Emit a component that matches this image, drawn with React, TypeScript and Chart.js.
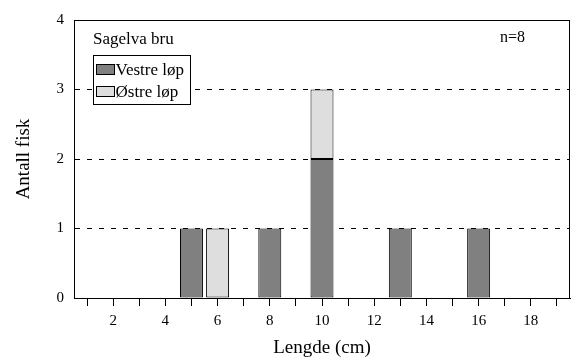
import React, { useEffect, useRef } from "react";
import { Chart, registerables } from "chart.js";

Chart.register(...registerables);

const categories = ["1","2","3","4","5","6","7","8","9","10","11","12","13","14","15","16","17","18","19"];
const vestre = [0,0,0,0,1,0,0,1,0,2,0,0,1,0,0,1,0,0,0];
const ostre  = [0,0,0,0,0,1,0,0,0,1,0,0,0,0,0,0,0,0,0];
const seriesNames = ["Vestre løp", "Østre løp"];
const seriesColors = ["#808080", "#dedede"];
const yTicks = [0, 1, 2, 3, 4];
const siteLabel = "Sagelva bru";
const nLabel = "n=8";
const xTitle = "Lengde (cm)";
const yTitle = "Antall fisk";

const FONT = "'Liberation Serif', 'Times New Roman', serif";

const decorPlugin = {
  id: "decor",
  afterDraw(chart: any) {
    const ctx = chart.ctx as CanvasRenderingContext2D;
    const a = chart.chartArea;
    ctx.save();
    // frame top & right
    ctx.strokeStyle = "#000";
    ctx.lineWidth = 1;
    ctx.setLineDash([]);
    ctx.beginPath();
    const t = Math.round(a.top) + 0.5;
    const r = Math.round(a.right) - 0.5;
    ctx.moveTo(a.left, t);
    ctx.lineTo(r, t);
    ctx.lineTo(r, a.bottom);
    ctx.stroke();

    ctx.fillStyle = "#000";
    ctx.textBaseline = "middle";
    ctx.textAlign = "left";
    ctx.font = `17px ${FONT}`;
    ctx.fillText(siteLabel, a.left + 19, a.top + 20);
    ctx.font = `16px ${FONT}`;
    ctx.fillText(nLabel, a.right - 70, a.top + 18);

    // legend box
    const bx = a.left + 19.5, by = a.top + 35.5, bw = 97, bh = 49;
    ctx.fillStyle = "#fff";
    ctx.fillRect(bx, by, bw, bh);
    ctx.strokeRect(bx, by, bw, bh);
    ctx.font = `17px ${FONT}`;
    seriesNames.forEach((name, i) => {
      const cy = by + 14 + i * 22;
      ctx.fillStyle = seriesColors[i];
      ctx.fillRect(bx + 3, cy - 5, 18, 10);
      ctx.strokeStyle = "#000";
      ctx.strokeRect(bx + 3, cy - 5, 18, 10);
      ctx.fillStyle = "#000";
      ctx.fillText(name, bx + 22, cy + 1);
    });

    // axis titles
    ctx.font = `19px ${FONT}`;
    ctx.textAlign = "center";
    ctx.fillText(xTitle, (a.left + a.right) / 2, 348);
    ctx.translate(24, (a.top + a.bottom) / 2);
    ctx.rotate(-Math.PI / 2);
    ctx.fillText(yTitle, 0, 0);
    ctx.restore();
  },
};

export default function App() {
  const ref = useRef<HTMLCanvasElement | null>(null);
  useEffect(() => {
    document.body.style.margin = "0";
    const chart = new Chart(ref.current as HTMLCanvasElement, {
      type: "bar",
      data: {
        labels: categories,
        datasets: [
          {
            label: seriesNames[0],
            data: vestre,
            backgroundColor: seriesColors[0],
            borderColor: "#000",
            borderWidth: 1,
            borderSkipped: false,
          },
          {
            label: seriesNames[1],
            data: ostre,
            backgroundColor: seriesColors[1],
            borderColor: "#000",
            borderWidth: 1,
            borderSkipped: false,
          },
        ],
      },
      options: {
        animation: false,
        responsive: false,
        layout: { padding: { top: 20, right: 1, left: 0, bottom: 0 } },
        datasets: { bar: { barPercentage: 0.88, categoryPercentage: 1 } },
        plugins: { legend: { display: false }, tooltip: { enabled: false } },
        scales: {
          x: {
            stacked: true,
            offset: true,
            grid: { display: true, drawOnChartArea: false, drawTicks: true, tickLength: 8, color: "#000", offset: false },
            border: { display: true, color: "#000", width: 1 },
            ticks: {
              color: "#000",
              font: { family: FONT, size: 15 },
              padding: 6,
              maxRotation: 0,
              autoSkip: false,
              callback: (_v: any, i: number) => (Number(categories[i]) % 2 === 0 ? categories[i] : ""),
            },
            afterFit: (s: any) => { s.height = 60; },
          },
          y: {
            stacked: true,
            min: yTicks[0],
            max: yTicks[yTicks.length - 1],
            grid: { color: "#000", drawTicks: false, lineWidth: 1 },
            border: { display: true, color: "#000", width: 1, dash: [5, 7] },
            ticks: {
              stepSize: 1,
              color: "#000",
              font: { family: FONT, size: 15 },
              padding: 10,
            },
            afterFit: (s: any) => { s.width = 74; },
          },
        },
      },
      plugins: [decorPlugin],
    } as any);
    return () => chart.destroy();
  }, []);
  return (
    <div style={{ position: "absolute", left: 0, top: 0, width: 571, height: 358 }}>
      <canvas ref={ref} width={571} height={358} style={{ width: 571, height: 358 }} />
    </div>
  );
}
